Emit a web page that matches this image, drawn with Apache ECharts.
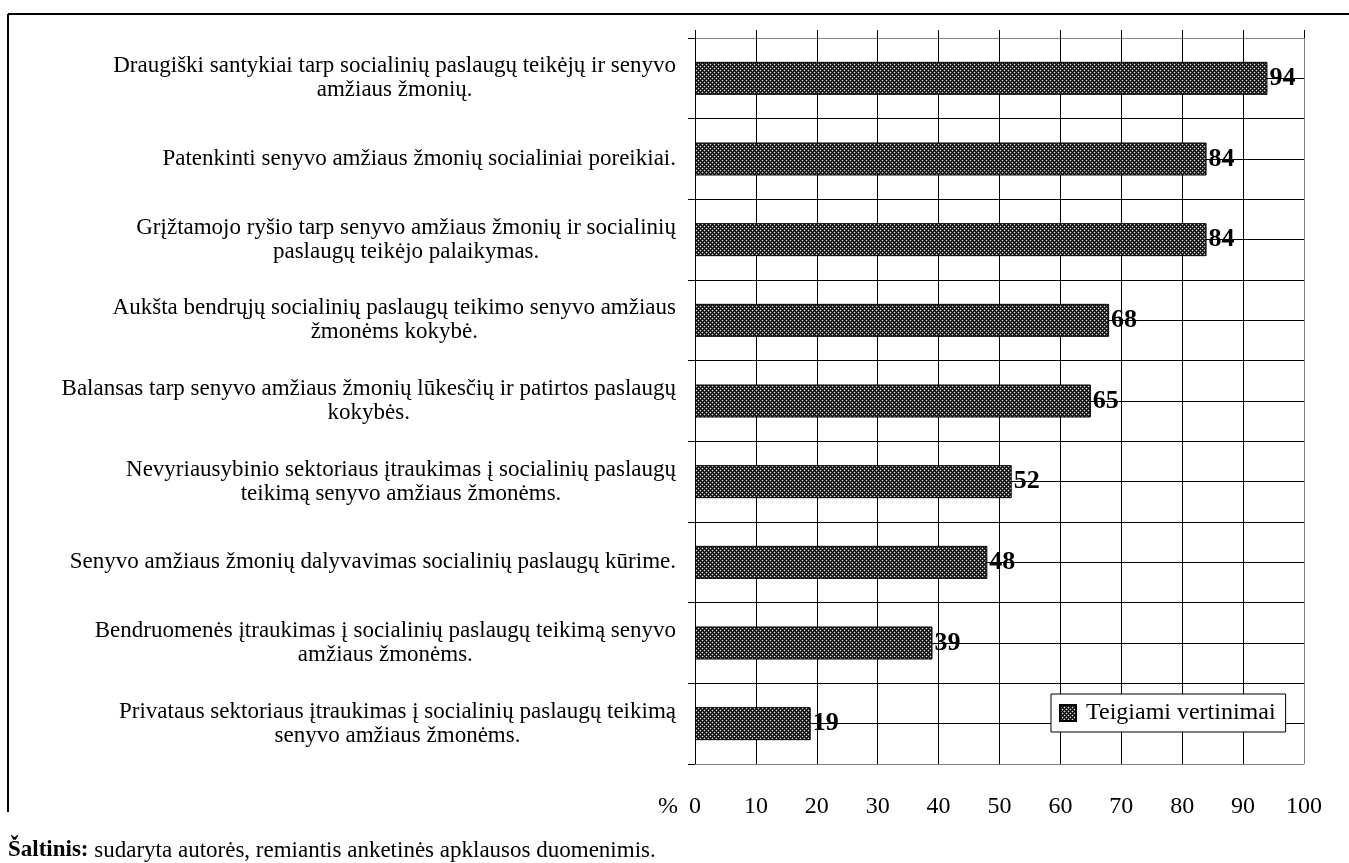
<!DOCTYPE html>
<html>
<head>
<meta charset="utf-8">
<script src="https://cdn.jsdelivr.net/npm/echarts@6/dist/echarts.min.js"></script>
<style>
html,body{margin:0;padding:0;background:#fff;}
#chart{width:1349px;height:863px;}
</style>
</head>
<body>
<div id="chart"></div>
<script>
var categories = [
  "Draugiški santykiai tarp socialinių paslaugų teikėjų ir senyvo\namžiaus žmonių.",
  "Patenkinti senyvo amžiaus žmonių socialiniai poreikiai.",
  "Grįžtamojo ryšio tarp senyvo amžiaus žmonių ir socialinių\npaslaugų teikėjo palaikymas.",
  "Aukšta bendrųjų socialinių paslaugų teikimo senyvo amžiaus\nžmonėms kokybė.",
  "Balansas tarp senyvo amžiaus žmonių lūkesčių ir patirtos paslaugų\nkokybės.",
  "Nevyriausybinio sektoriaus įtraukimas į socialinių paslaugų\nteikimą senyvo amžiaus žmonėms.",
  "Senyvo amžiaus žmonių dalyvavimas socialinių paslaugų kūrime.",
  "Bendruomenės įtraukimas į socialinių paslaugų teikimą senyvo\namžiaus žmonėms.",
  "Privataus sektoriaus įtraukimas į socialinių paslaugų teikimą\nsenyvo amžiaus žmonėms."
];
var values = [94, 84, 84, 68, 65, 52, 48, 39, 19];
var seriesName = "Teigiami vertinimai";
var xTickLabels = ["0","10","20","30","40","50","60","70","80","90","100"];
var sourceBold = "Šaltinis:";
var sourceText = " sudaryta autorės, remiantis anketinės apklausos duomenimis.";

function makePattern() {
  var c = document.createElement('canvas');
  c.width = 4; c.height = 4;
  var ctx = c.getContext('2d');
  var K = '#000000', L = '#4a4a4a', W = '#d8d8d8';
  var grid = [
    [K, L, W, L],
    [L, K, L, K],
    [W, L, K, L],
    [L, K, L, K]
  ];
  for (var y = 0; y < 4; y++) for (var x = 0; x < 4; x++) {
    ctx.fillStyle = grid[y][x];
    ctx.fillRect(x, y, 1, 1);
  }
  return c;
}
var pattern = { image: makePattern(), repeat: 'repeat' };

var FONT = '"Liberation Serif", "Times New Roman", serif';
var chart = echarts.init(document.getElementById('chart'), null, {renderer: 'canvas'});

var xSplitColors = [];
for (var i = 0; i < 10; i++) xSplitColors.push('#000');
xSplitColors.push('#808080');
var ySplitColors = [];
for (var j = 0; j < 18; j++) ySplitColors.push('#000');
ySplitColors.push('#808080');

var option = {
  backgroundColor: '#fff',
  animation: false,
  grid: { left: 695, right: 45, top: 38, bottom: 99, containLabel: false },
  xAxis: [
    {
      type: 'value', min: 0, max: 100, interval: 10, position: 'bottom',
      axisLine: { show: true, lineStyle: { color: '#808080', width: 1 } },
      axisTick: { show: false },
      axisLabel: {
        margin: 31, fontFamily: FONT, fontSize: 24, color: '#000',
        formatter: function (v) { return xTickLabels[Math.round(v / 10)]; }
      },
      splitLine: { show: true, lineStyle: { color: xSplitColors, width: 1 } }
    },
    {
      type: 'value', min: 0, max: 100, interval: 10, position: 'top',
      axisLine: { show: false },
      axisTick: { show: true, length: 8, lineStyle: { color: '#000', width: 1 } },
      axisLabel: { show: false },
      splitLine: { show: false }
    }
  ],
  yAxis: [
    {
      type: 'category', data: categories, inverse: true, position: 'left',
      axisLine: { show: true, lineStyle: { color: '#000', width: 1 } },
      axisTick: { show: true, length: 7, lineStyle: { color: '#000', width: 1 } },
      axisLabel: {
        margin: 19, align: 'right', color: '#000',
        fontFamily: FONT, fontSize: 23, lineHeight: 24,
        formatter: function (v) {
          return v.split('\n').map(function (l) { return '{c|' + l + '}'; }).join('\n');
        },
        rich: { c: { align: 'center', fontFamily: FONT, fontSize: 23, lineHeight: 24, color: '#000' } }
      },
      splitLine: { show: false }
    },
    {
      type: 'value', min: 0, max: 18, interval: 1, position: 'right',
      axisLine: { show: false }, axisTick: { show: false }, axisLabel: { show: false },
      splitLine: { show: true, lineStyle: { color: ySplitColors, width: 1 } }
    }
  ],
  legend: {
    show: true, left: 1051, top: 694, orient: 'horizontal',
    padding: [7, 10, 7, 8],
    backgroundColor: '#fff', borderColor: '#000', borderWidth: 1, borderRadius: 0,
    itemWidth: 16, itemHeight: 16, itemGap: 5,
    icon: 'rect',
    textStyle: { fontFamily: FONT, fontSize: 24, lineHeight: 24, color: '#000', padding: [0, 0, 0, 5] },
    data: [seriesName]
  },
  series: [
    {
      name: seriesName, type: 'bar', data: values, barWidth: 33,
      xAxisIndex: 0, yAxisIndex: 0,
      itemStyle: { color: pattern, borderColor: '#000', borderWidth: 1 },
      label: {
        show: true, position: 'right', distance: 2,
        fontFamily: FONT, fontSize: 26, fontWeight: 'bold', color: '#000'
      }
    }
  ],
  graphic: [
    { type: 'line', shape: { x1: 8, y1: 14, x2: 1349, y2: 14 }, style: { stroke: '#000', lineWidth: 2 } },
    { type: 'line', shape: { x1: 8, y1: 14, x2: 8, y2: 812 }, style: { stroke: '#000', lineWidth: 2 } },
    { type: 'text', left: 658, top: 795, style: { text: '%', font: '24px ' + FONT, fill: '#000' } },
    {
      type: 'text', left: 8, top: 839,
      style: {
        text: '{b|' + sourceBold + '}{n|' + sourceText + '}',
        rich: {
          b: { fontFamily: FONT, fontSize: 23, fontWeight: 'bold', fill: '#000' },
          n: { fontFamily: FONT, fontSize: 23, fill: '#000' }
        }
      }
    }
  ]
};
chart.setOption(option);
</script>
</body>
</html>
